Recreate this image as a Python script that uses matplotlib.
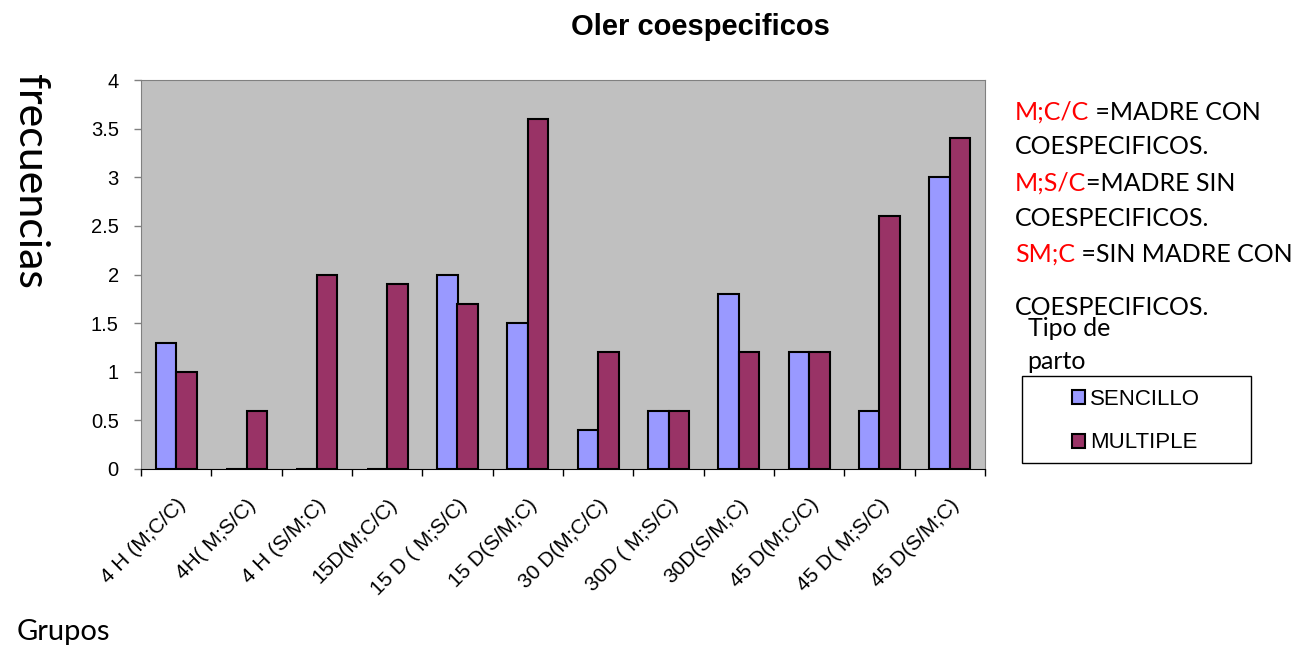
import numpy as np
import matplotlib
matplotlib.use('Agg')
import matplotlib.pyplot as plt
from matplotlib.patches import Patch, Rectangle

# Grupos y frecuencias por tipo de parto
grupos = ['4 H (M;C/C)', '4H( M;S/C)', '4 H (S/M;C)', '15D(M;C/C)',
          '15 D ( M;S/C)', '15 D(S/M;C)', '30 D(M;C/C)', '30D ( M;S/C)',
          '30D(S/M;C)', '45 D(M;C/C)', '45 D( M;S/C)', '45 D(S/M;C)']
sencillo = [1.3, 0, 0, 0, 2.0, 1.5, 0.4, 0.6, 1.8, 1.2, 0.6, 3.0]
multiple = [1.0, 0.6, 2.0, 1.9, 1.7, 3.6, 1.2, 0.6, 1.2, 1.2, 2.6, 3.4]
yticks = [0, 0.5, 1, 1.5, 2, 2.5, 3, 3.5, 4]
ytick_labels = ['0', '0.5', '1', '1.5', '2', '2.5', '3', '3.5', '4']

azul = '#9999FF'
granate = '#993366'
arial = 'Liberation Sans'
calibri = 'Lato'
W, H = 1298, 646

fig = plt.figure(figsize=(W / 100, H / 100), dpi=100)
ax = fig.add_axes([141 / W, 1 - 469 / H, 844 / W, 389 / H])
ax.set_facecolor('#C0C0C0')

x = np.arange(len(grupos))
w = 0.29
ax.bar(x - w / 2, sencillo, w, color=azul, edgecolor='black', linewidth=1.5)
ax.bar(x + w / 2, multiple, w, color=granate, edgecolor='black', linewidth=1.5)

ax.set_xlim(-0.5, len(grupos) - 0.5)
ax.set_ylim(0, 4)
ax.set_yticks(yticks)
ax.set_yticklabels(ytick_labels, fontfamily=arial, fontsize=14.5)
ax.set_xticks(x)
ax.set_xticklabels(grupos, rotation=45, ha='right', rotation_mode='anchor',
                   fontfamily=arial, fontsize=15)
ax.set_xticks(np.arange(len(grupos) + 1) - 0.5, minor=True)
ax.tick_params(axis='x', which='major', length=0, pad=19)
ax.tick_params(axis='x', which='minor', length=5, width=1, color='black')
ax.tick_params(axis='y', length=5, width=1, color='#808080', pad=11)

for s in ['top', 'right', 'left']:
    ax.spines[s].set_color('#808080')
ax.spines['bottom'].set_color('black')

# titulos
fig.text(700 / W, 1 - 35 / H, 'Oler coespecificos', ha='center', va='baseline',
         fontfamily=arial, fontweight='bold', fontsize=21)
fig.text(30 / W, 1 - 181 / H, 'frecuencias', rotation=270, ha='center', va='center',
         fontfamily=calibri, fontsize=31)
fig.text(17 / W, 1 - 640 / H, 'Grupos', ha='left', va='baseline',
         fontfamily=calibri, fontsize=21)

# notas de abreviaturas
notas = [('M;C/C', ' =MADRE CON', 120),
         ('', 'COESPECIFICOS.', 154),
         ('M;S/C', '=MADRE SIN', 191),
         ('', 'COESPECIFICOS.', 226),
         ('SM;C', ' =SIN MADRE CON', 262),
         ('', 'COESPECIFICOS.', 315)]
for rojo, negro, yy in notas:
    if rojo:
        t = fig.text(1015 / W, 1 - yy / H, rojo, color='red', fontfamily=calibri,
                     fontsize=18, va='baseline')
        ax.annotate(negro, xy=(1, 0), xycoords=t, va='bottom', ha='left',
                    fontfamily=calibri, fontsize=18, color='black')
    else:
        fig.text(1015 / W, 1 - yy / H, negro, color='black', fontfamily=calibri,
                 fontsize=18, va='baseline')

fig.text(1028 / W, 1 - 336 / H, 'Tipo de', fontfamily=calibri, fontsize=18,
         va='baseline')
fig.text(1027 / W, 1 - 369 / H, 'parto', fontfamily=calibri, fontsize=18,
         va='baseline')

# leyenda con su recuadro
fig.add_artist(Rectangle((1022 / W, 1 - 463 / H), 229 / W, 87 / H,
                         transform=fig.transFigure, fill=False,
                         edgecolor='black', linewidth=1))
handles = [Patch(facecolor=azul, edgecolor='black', linewidth=1.5, label='SENCILLO'),
           Patch(facecolor=granate, edgecolor='black', linewidth=1.5, label='MULTIPLE')]
fig.legend(handles=handles, loc='upper left', bbox_to_anchor=(1072 / W, 1 - 389 / H),
           prop={'family': arial, 'size': 16}, frameon=False,
           handlelength=0.6, handleheight=0.6, handletextpad=0.2,
           labelspacing=1.01, borderpad=0, borderaxespad=0)

fig.savefig('out.png', dpi=100)
